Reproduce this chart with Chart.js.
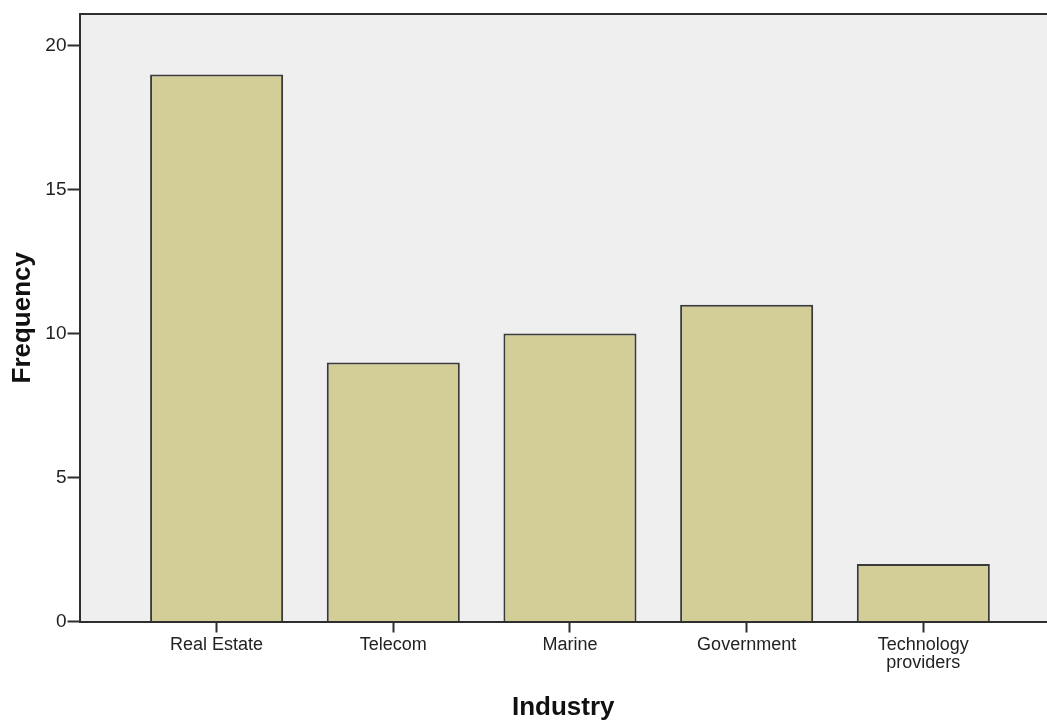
<!DOCTYPE html>
<html>
<head>
<meta charset="utf-8">
<script src="https://cdn.jsdelivr.net/npm/chart.js@4"></script>
<style>
    html, body { margin: 0; padding: 0; background: #fff; }
    #wrap { width: 1047px; height: 726px; }
</style>
</head>
<body>
<div id="wrap"><canvas id="industryChart"></canvas></div>
<script>
// Industry frequency bar chart
const categories = ['Real Estate', 'Telecom', 'Marine', 'Government', ['Technology', 'providers']];
const frequencies = [19, 9, 10, 11, 2];
const yTicks = [0, 5, 10, 15, 20];

const FONT = "'Liberation Sans', Arial, sans-serif";
const AXIS = '#2e2e2e';

// plot background + top frame line
const frame = {
    id: 'frame',
    beforeDraw(chart) {
        const { ctx, chartArea: a } = chart;
        ctx.save();
        ctx.fillStyle = '#efefef';
        ctx.fillRect(a.left, a.top, a.right - a.left, a.bottom - a.top);
        ctx.strokeStyle = AXIS;
        ctx.lineWidth = 2;
        ctx.beginPath();
        ctx.moveTo(a.left, a.top);
        ctx.lineTo(a.right, a.top);
        ctx.stroke();
        ctx.restore();
    }
};

const ctx = document.getElementById('industryChart');

new Chart(ctx, {
    type: 'bar',
    data: {
        datasets: [{
            label: 'Frequency',
            data: frequencies.map((v, i) => ({ x: i, y: v })),
            backgroundColor: '#d3ce97',
            borderColor: '#3a3a3a',
            borderWidth: 2,
            categoryPercentage: 1,
            barPercentage: 0.753
        }]
    },
    options: {
        responsive: true,
        maintainAspectRatio: false,
        animation: false,
        layout: { padding: { top: 14, right: 0, left: 0, bottom: 0 } },
        plugins: {
            legend: { display: false },
            tooltip: { enabled: false }
        },
        scales: {
            x: {
                type: 'linear',
                offset: false,
                min: -0.776,
                max: 4.70,
                afterBuildTicks: scale => {
                    scale.ticks = categories.map((c, i) => ({ value: i }));
                },
                afterFit: scale => { scale.height = 104.5; },
                grid: {
                    offset: false,
                    drawOnChartArea: false,
                    drawTicks: true,
                    tickLength: 11,
                    tickColor: AXIS,
                    tickWidth: 2
                },
                border: { display: true, color: AXIS, width: 2 },
                ticks: {
                    autoSkip: false,
                    maxRotation: 0,
                    padding: 4,
                    color: '#222',
                    font: { family: FONT, size: 18, lineHeight: 0.97 },
                    callback: value => categories[value]
                },
                title: {
                    display: true,
                    text: 'Industry',
                    color: '#111',
                    padding: { top: 0, bottom: 3 },
                    font: { family: FONT, size: 26, weight: 'bold' }
                }
            },
            y: {
                min: 0,
                max: 21.1,
                afterBuildTicks: scale => {
                    scale.ticks = yTicks.map(v => ({ value: v }));
                },
                afterFit: scale => { scale.width = 79.5; },
                grid: {
                    drawOnChartArea: false,
                    drawTicks: true,
                    tickLength: 12,
                    tickColor: AXIS,
                    tickWidth: 2
                },
                border: { display: true, color: AXIS, width: 2 },
                ticks: {
                    padding: 1,
                    color: '#222',
                    font: { family: FONT, size: 19 }
                },
                title: {
                    display: true,
                    text: 'Frequency',
                    color: '#111',
                    padding: { top: 7, bottom: 0 },
                    font: { family: FONT, size: 26, weight: 'bold' }
                }
            }
        }
    },
    plugins: [frame]
});
</script>
</body>
</html>
